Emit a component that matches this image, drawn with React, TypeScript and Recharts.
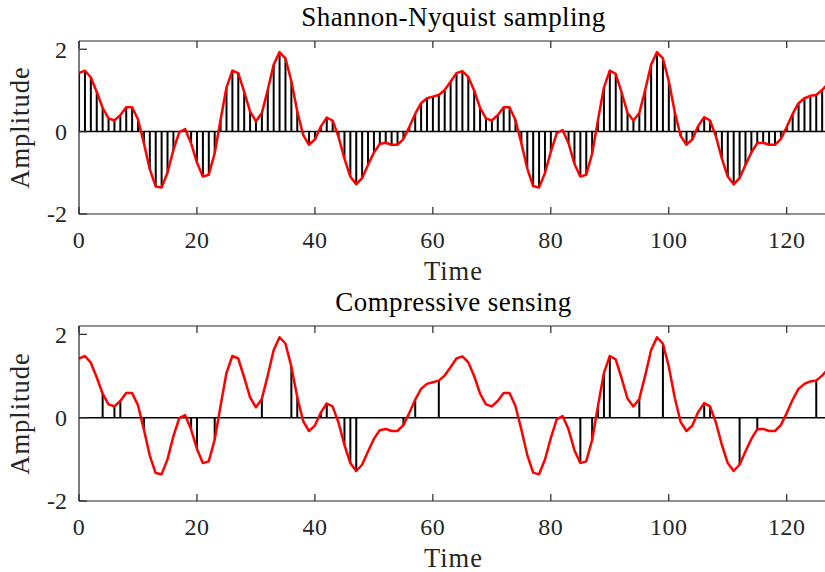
import { Bar, ComposedChart, Label, Line, ReferenceLine, XAxis, YAxis } from "recharts"

// signal, one value per time step (0..127)
const signal = [
  1.42, 1.48, 1.32, 0.97, 0.58, 0.32, 0.27, 0.4, 0.59, 0.59,
  0.3, -0.28, -0.91, -1.33, -1.36, -1.0, -0.45, -0.01, 0.06, -0.28,
  -0.75, -1.09, -1.05, -0.53, 0.28, 1.07, 1.48, 1.42, 0.97, 0.49,
  0.25, 0.45, 1.01, 1.62, 1.93, 1.78, 1.23, 0.5, -0.08, -0.32,
  -0.19, 0.12, 0.34, 0.27, -0.12, -0.65, -1.09, -1.28, -1.13, -0.81,
  -0.51, -0.3, -0.27, -0.32, -0.32, -0.18, 0.11, 0.43, 0.69, 0.81,
  0.85, 0.89, 1.01, 1.21, 1.42, 1.47, 1.33, 1.0, 0.58, 0.32,
  0.27, 0.4, 0.59, 0.59, 0.28, -0.28, -0.89, -1.32, -1.36, -1.01,
  -0.49, -0.04, 0.04, -0.28, -0.78, -1.09, -1.05, -0.54, 0.28, 1.07,
  1.48, 1.4, 0.95, 0.46, 0.27, 0.45, 1.01, 1.62, 1.93, 1.78,
  1.23, 0.49, -0.1, -0.32, -0.19, 0.14, 0.35, 0.27, -0.12, -0.65,
  -1.09, -1.28, -1.13, -0.81, -0.51, -0.28, -0.27, -0.32, -0.32, -0.18,
  0.11, 0.43, 0.69, 0.81, 0.87, 0.89, 1.01, 1.17,
]

// random sample positions used in the compressive sensing panel
const csSamples = [
  4, 6, 7, 11, 19, 20, 23, 31, 36, 37, 41, 42, 45, 46, 47, 55,
  57, 61, 82, 85, 87, 88, 89, 90, 95, 99, 106, 107, 112, 115, 125,
]

const xTicks = [0, 20, 40, 60, 80, 100, 120]
const yTicks = [-2, 0, 2]

const time = signal.map((_, i) => i)
const nyquistData = time.map((t) => ({ t, x: signal[t], stem: signal[t] }))
const csData = time.map((t) => ({ t, x: signal[t], stem: csSamples.includes(t) ? signal[t] : null }))

const FONT = '"Liberation Serif", "Times New Roman", serif'
const AXIS = "#262626"

function BottomTick(props: any) {
  const { x, y, payload } = props
  return (
    <g>
      <line x1={x} x2={x} y1={y} y2={y - 7} stroke={AXIS} strokeWidth={1.2} />
      <text x={x} y={y + 34} textAnchor="middle" fill={AXIS} fontFamily={FONT} fontSize={24} letterSpacing={0.5}>
        {payload.value}
      </text>
    </g>
  )
}

function TopTick(props: any) {
  const { x, y } = props
  return <line x1={x} x2={x} y1={y} y2={y + 7} stroke={AXIS} strokeWidth={1.2} />
}

function LeftTick(props: any) {
  const { x, y, payload } = props
  return (
    <g>
      <line x1={x} x2={x + 8} y1={y} y2={y} stroke={AXIS} strokeWidth={1.2} />
      <text x={x - 12} y={y} dy="0.35em" textAnchor="end" fill={AXIS} fontFamily={FONT} fontSize={24}>
        {payload.value}
      </text>
    </g>
  )
}

function Panel({ title, data, top, axisHeight }: { title: string; data: any[]; top: number; axisHeight: number }) {
  return (
    <ComposedChart width={850} height={286} data={data} margin={{ top, right: 22, bottom: 0, left: 0 }}>
      <XAxis
        dataKey="t"
        type="number"
        domain={[0, 127]}
        ticks={xTicks}
        height={axisHeight}
        tickSize={0}
        tickMargin={0}
        tickLine={false}
        tick={<BottomTick />}
        axisLine={{ stroke: AXIS, strokeWidth: 1.2 }}
        allowDataOverflow
      >
        <Label
          content={(p: any) => (
            <text
              x={p.viewBox.x + p.viewBox.width / 2}
              y={p.viewBox.y + 66}
              textAnchor="middle"
              fill={AXIS}
              fontFamily={FONT}
              fontSize={26.5}
              letterSpacing={1}
            >
              Time
            </text>
          )}
        />
      </XAxis>
      <XAxis
        xAxisId="top"
        dataKey="t"
        orientation="top"
        type="number"
        domain={[0, 127]}
        ticks={xTicks}
        height={1}
        tickSize={0}
        tickMargin={0}
        tickLine={false}
        tick={<TopTick />}
        axisLine={{ stroke: AXIS, strokeWidth: 1.2 }}
        allowDataOverflow
      >
        <Label
          content={(p: any) => (
            <text
              x={p.viewBox.x + p.viewBox.width / 2}
              y={p.viewBox.y + p.viewBox.height - 15}
              textAnchor="middle"
              fill="#000"
              fontFamily={FONT}
              fontSize={27}
              letterSpacing={0.4}
            >
              {title}
            </text>
          )}
        />
      </XAxis>
      <YAxis
        type="number"
        domain={[-2, 2.2]}
        ticks={yTicks}
        width={79}
        tickSize={0}
        tickMargin={0}
        tickLine={false}
        tick={<LeftTick />}
        axisLine={{ stroke: AXIS, strokeWidth: 1.2 }}
        allowDataOverflow
      >
        <Label
          content={(p: any) => {
            const cy = p.viewBox.y + p.viewBox.height / 2
            return (
              <text
                x={29}
                y={cy}
                transform={`rotate(-90, 29, ${cy})`}
                textAnchor="middle"
                fill={AXIS}
                fontFamily={FONT}
                fontSize={26.5}
                letterSpacing={1}
              >
                Amplitude
              </text>
            )
          }}
        />
      </YAxis>
      {/* invisible series so the top (box) axis gets drawn */}
      <Line xAxisId="top" dataKey="x" stroke="none" dot={false} activeDot={false} isAnimationActive={false} />
      <Bar dataKey="stem" fill="#000" barSize={2} isAnimationActive={false} />
      <ReferenceLine y={0} stroke="#000" strokeWidth={1.5} />
      <Line
        dataKey="x"
        type="linear"
        stroke="#ff0000"
        strokeWidth={2.5}
        dot={false}
        activeDot={false}
        strokeLinejoin="round"
        isAnimationActive={false}
      />
    </ComposedChart>
  )
}

export default function App() {
  return (
    <div style={{ position: "absolute", left: 0, top: 0, width: 825, height: 572, overflow: "hidden", background: "#fff" }}>
      <Panel title="Shannon-Nyquist sampling" data={nyquistData} top={40} axisHeight={72} />
      <Panel title="Compressive sensing" data={csData} top={39} axisHeight={71} />
    </div>
  )
}
